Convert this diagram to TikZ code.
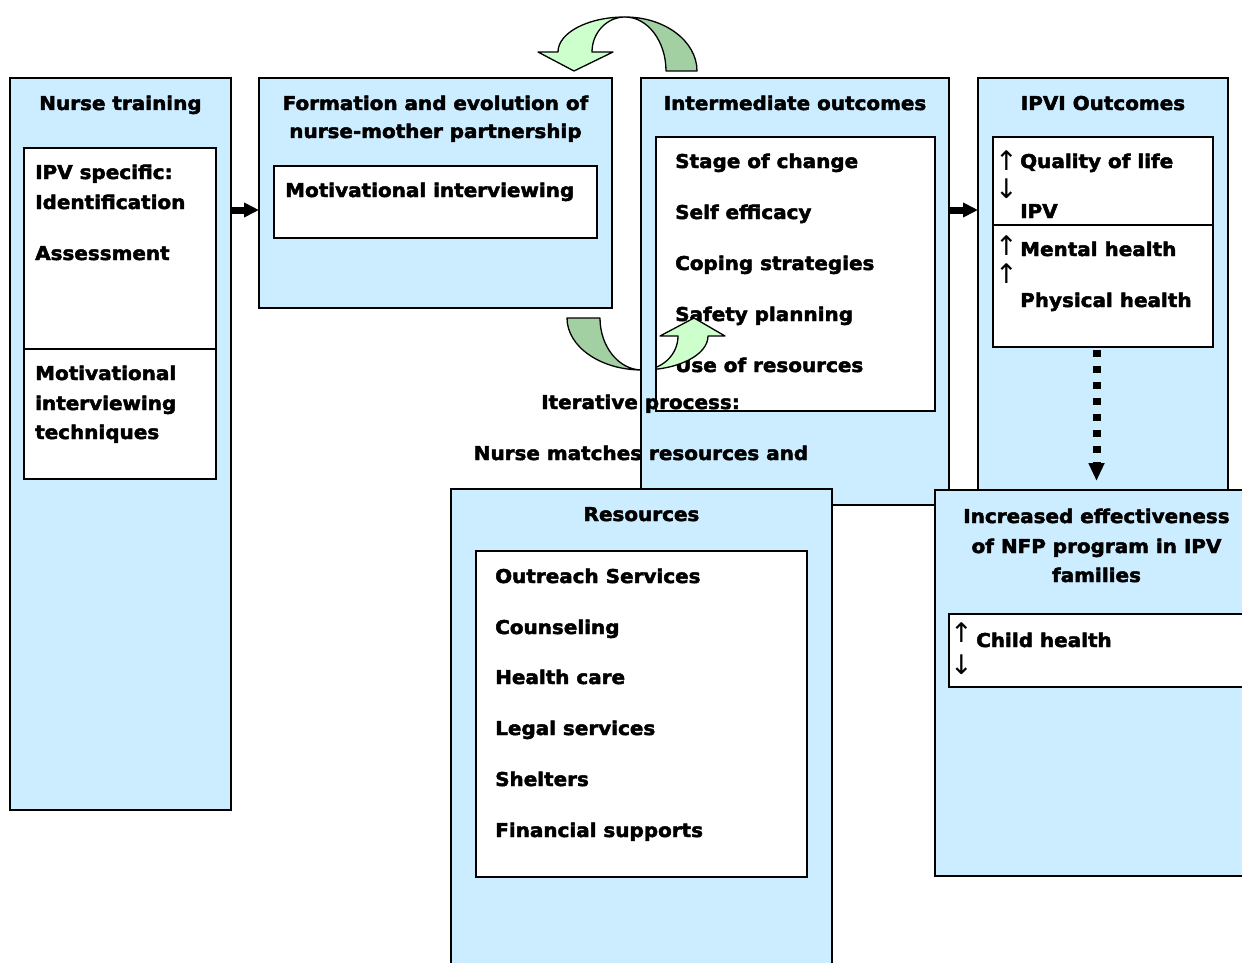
\documentclass[tikz,border=0pt]{standalone}
\usepackage{fontspec}
\setmainfont{DejaVu Sans}[FakeStretch=1.05]
\newfontfamily\hfont{DejaVu Sans Bold}[FakeStretch=1.05, FakeBold=2.5]
\newfontfamily\symfont{DejaVu Sans}
\usetikzlibrary{arrows.meta}
\definecolor{boxblue}{RGB}{204,236,255}
\definecolor{lgreen}{RGB}{204,255,204}
\definecolor{dgreen}{RGB}{163,208,163}
\tikzset{
  bluebox/.style={draw=black, line width=2pt, fill=boxblue, inner sep=0pt, outer sep=0pt, anchor=north west},
  whitebox/.style={draw=black, line width=2pt, fill=white, inner sep=0pt, outer sep=0pt, anchor=north west},
  txt/.style={inner sep=0pt, anchor=base west, font=\hfont\fontsize{19}{23}\selectfont},
  ctxt/.style={txt, anchor=base},
  sym/.style={inner sep=0pt, anchor=base west, font=\symfont\fontsize{27}{30}\selectfont},
  bigarrow/.style={line width=7pt, -{Triangle[length=15pt,width=14pt]}},
  dotarrow/.style={line width=8pt, dash pattern=on 7pt off 9pt, -{Triangle[length=18pt,width=15pt]}},
  lightg/.style={fill=lgreen, draw=black, line width=1.3pt, line join=round},
  darkg/.style={fill=dgreen, draw=black, line width=1.3pt, line join=round},
}
\begin{document}
\begin{tikzpicture}[x=1pt,y=-1pt]
\useasboundingbox (0,0) rectangle (1242,963);
\clip (0,0) rectangle (1242,963);
\fill[white] (0,0) rectangle (1242,963);

% Nurse training
\node[bluebox, minimum width=221pt, minimum height=732pt] (nt) at (10,78) {};
\node[whitebox, minimum width=192pt, minimum height=201pt] (ntA) at (24,148) {};
\node[whitebox, minimum width=192pt, minimum height=130pt] (ntB) at (24,349) {};
\node[ctxt] (t1) at (120.5,110) {Nurse training};
\node[txt] (t2) at (35,179) {IPV specific:};
\node[txt] (t3) at (35,209) {Identification};
\node[txt] (t4) at (35,260) {Assessment};
\node[txt] (t5) at (35,380) {Motivational};
\node[txt] (t6) at (35,410) {interviewing};
\node[txt] (t7) at (35,439) {techniques};

% Formation
\node[bluebox, minimum width=353pt, minimum height=230pt] (fe) at (259,78) {};
\node[whitebox, minimum width=323pt, minimum height=72pt] (feA) at (274,166) {};
\node[ctxt] (f1) at (435.5,110) {Formation and evolution of};
\node[ctxt] (f2) at (435.5,138) {nurse-mother partnership};
\node[txt] (f3) at (285,197) {Motivational interviewing};

% IPVI outcomes
\node[bluebox, minimum width=250pt, minimum height=420pt] (ipvi) at (978,78) {};
\node[whitebox, minimum width=220pt, minimum height=88pt] (ipviA) at (993,137) {};
\node[whitebox, minimum width=220pt, minimum height=122pt] (ipviB) at (993,225) {};
\node[ctxt] (p1) at (1103,110) {IPVI Outcomes};
\node[sym] (pu1) at (995,171) {↑};
\node[txt] (p2) at (1020,168) {Quality of life};
\node[sym] (pd1) at (995,198) {↓};
\node[txt] (p3) at (1020,218) {IPV};
\node[sym] (pu2) at (995,255) {↑};
\node[txt] (p4) at (1020,256) {Mental health};
\node[sym] (pu3) at (995,283) {↑};
\node[txt] (p5) at (1020,307) {Physical health};

% Intermediate outcomes
\node[bluebox, minimum width=308pt, minimum height=427pt] (io) at (641,78) {};
\node[whitebox, minimum width=279pt, minimum height=274pt] (ioA) at (656,137) {};
\node[ctxt] (i1) at (795,110) {Intermediate outcomes};
\node[txt] (i2) at (675,168) {Stage of change};
\node[txt] (i3) at (675,219) {Self efficacy};
\node[txt] (i4) at (675,270) {Coping strategies};
\node[txt] (i5) at (675,321) {Safety planning};
\node[txt] (i6) at (675,372) {Use of resources};

% iterative text
\node[ctxt] (it1) at (640.5,409) {Iterative process:};
\node[ctxt] (it2) at (641,460) {Nurse matches resources and};
\draw[line width=2pt] (io.north west) rectangle (io.south east);
\draw[line width=2pt] (ioA.north west) rectangle (ioA.south east);

% top curved arrow
\path[darkg] (697,71) .. controls (697,41.2) and (664.8,17) .. (625,17)
   .. controls (647.6,17) and (666,41.2) .. (666,71) -- cycle;
\path[lightg] (558,52) .. controls (558,32.7) and (588,17) .. (625,17)
   .. controls (606.8,17) and (592,32.7) .. (592,52) -- (613,52) -- (574,71) -- (538,52) -- cycle;

% Resources
\node[bluebox, minimum width=381pt, minimum height=500pt] (res) at (451,489) {};
\node[whitebox, minimum width=331pt, minimum height=326pt] (resA) at (476,551) {};
\node[ctxt] (r1) at (641.5,521) {Resources};
\node[txt] (r2) at (495,583) {Outreach Services};
\node[txt] (r3) at (495,634) {Counseling};
\node[txt] (r4) at (495,684) {Health care};
\node[txt] (r5) at (495,735) {Legal services};
\node[txt] (r6) at (495,786) {Shelters};
\node[txt] (r7) at (495,837) {Financial supports};

% Increased effectiveness
\node[bluebox, minimum width=323pt, minimum height=386pt] (eff) at (935,490) {};
\node[whitebox, minimum width=309pt, minimum height=73pt] (effA) at (949,614) {};
\node[ctxt] (e1) at (1096.5,523) {Increased effectiveness};
\node[ctxt] (e2) at (1096.5,553) {of NFP program in IPV};
\node[ctxt] (e3) at (1096.5,582) {families};
\node[sym] (eu) at (950,642) {↑};
\node[txt] (e4) at (976,647) {Child health};
\node[sym] (ed) at (950,674) {↓};

% bottom curved arrow
\path[darkg] (567,318) .. controls (567,346.7) and (600.6,370) .. (642,370)
   .. controls (618.8,370) and (600,346.7) .. (600,318) -- cycle;
\path[lightg] (642,370) .. controls (678.5,370) and (708,354.8) .. (708,336)
   -- (725,336) -- (694,318) -- (660,336) -- (678,336)
   .. controls (678,354.8) and (661.9,370) .. (642,370) -- cycle;
\fill[boxblue] (642,314) rectangle (655,376);
\draw[line width=2pt] (641,314) -- (641,376) (656,314) -- (656,376);

% connectors
\coordinate (a1) at (0,210);
\draw[bigarrow] (nt.east |- a1) -- (fe.west |- a1);
\draw[bigarrow] (io.east |- a1) -- (ipvi.west |- a1);
\draw[dotarrow, shorten <=3pt, shorten >=9pt] (eff.north |- ipviB.south) -- (eff.north);
\end{tikzpicture}
\end{document}
